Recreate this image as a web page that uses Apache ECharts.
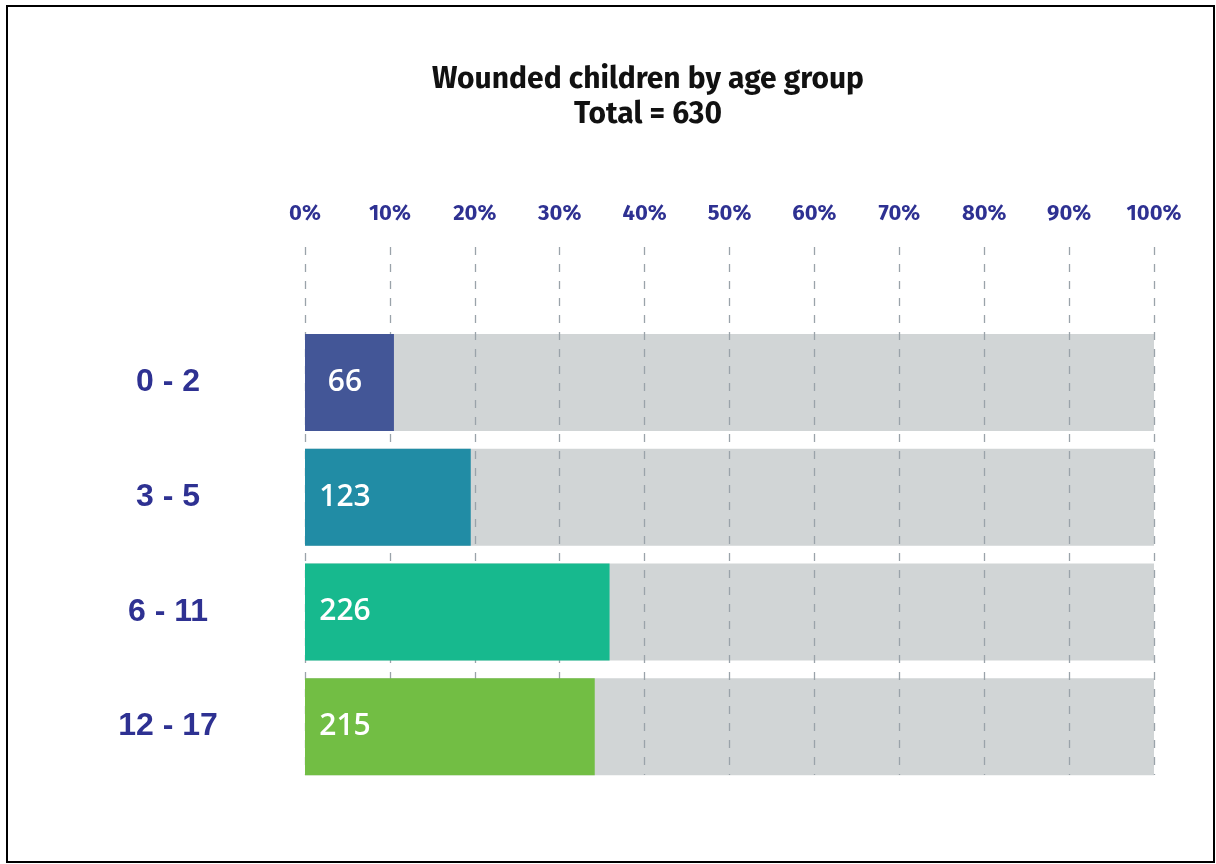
<!DOCTYPE html>
<html><head><meta charset="utf-8">
<script src="https://cdn.jsdelivr.net/npm/echarts@6/dist/echarts.min.js"></script>
<style>html,body{margin:0;padding:0;background:#fff}#c{width:1216px;height:864px}</style>
</head><body><div id="c"></div>
<script>
const categories = ['0 - 2', '3 - 5', '6 - 11', '12 - 17'];
const counts = [66, 123, 226, 215];
const total = 630;
const barColors = ['#435697', '#218ca5', '#17b98e', '#72be44'];
const tickValues = [0, 10, 20, 30, 40, 50, 60, 70, 80, 90, 100];

const pct = counts.map(v => v / total * 100);
const chart = echarts.init(document.getElementById('c'));
chart.setOption({
  animation: false,
  backgroundColor: '#fff',
  title: {
    text: 'Wounded children by age group\nTotal = 630',
    left: 643, top: 57, textAlign: 'center',
    textStyle: { fontFamily: 'Fira Sans, Open Sans, sans-serif', fontWeight: 'bold', fontSize: 30, lineHeight: 35, color: '#111' }
  },
  graphic: [{
    type: 'rect', shape: { x: 7, y: 6, width: 1207, height: 856 },
    style: { fill: null, stroke: '#000', lineWidth: 2 }, z: 100
  }],
  grid: [
    { left: 305, right: 62, top: 325, bottom: 80 },
    { left: 305, right: 62, top: 247, bottom: 89 }
  ],
  xAxis: [
    { gridIndex: 0, type: 'value', min: 0, max: 100, interval: 10, show: false },
    { gridIndex: 1, type: 'value', min: 0, max: 100, interval: 10, position: 'top', z: 2,
      axisLine: { show: false }, axisTick: { show: false },
      axisLabel: { formatter: '{value}%', color: '#2e3192', fontWeight: 'bold', fontSize: 22, margin: 22, fontFamily: 'Fira Sans, Noto Sans, sans-serif' },
      splitLine: { show: true, lineStyle: { type: [8, 9], color: '#9aa3aa', width: 1.3 } }
    }
  ],
  yAxis: [
    { gridIndex: 0, type: 'category', data: categories, inverse: true,
      axisLine: { show: false }, axisTick: { show: false },
      axisLabel: { align: 'center', margin: 137, color: '#2e3192', fontWeight: 'bold', fontSize: 32, fontFamily: 'Liberation Sans, Arial, sans-serif' }
    },
    { gridIndex: 1, type: 'value', show: false, min: 0, max: 1 }
  ],
  series: [
    { type: 'bar', xAxisIndex: 0, yAxisIndex: 0, z: 1, barWidth: 97, barGap: '-100%',
      data: categories.map(() => 100), itemStyle: { color: '#d1d5d6' }, silent: true },
    { type: 'bar', xAxisIndex: 0, yAxisIndex: 0, z: 3, barWidth: 97,
      data: pct.map((v, i) => ({ value: v, itemStyle: { color: barColors[i] } })),
      label: { show: true, position: [40, '50%'], align: 'center', verticalAlign: 'middle',
        color: '#fff', fontSize: 30, fontWeight: 600, fontFamily: 'Open Sans, sans-serif',
        formatter: p => counts[p.dataIndex] }
    }
  ]
});
</script></body></html>
